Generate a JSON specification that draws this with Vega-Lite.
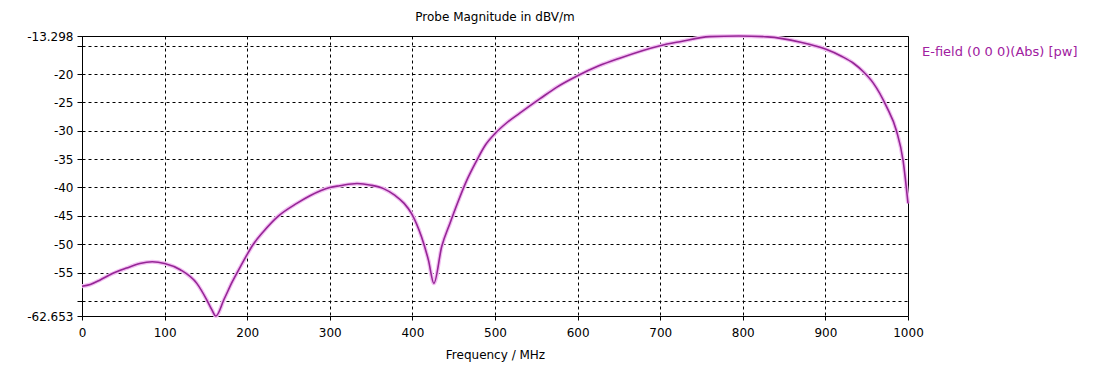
{
  "$schema": "https://vega.github.io/schema/vega-lite/v6.json",
  "width": 826,
  "height": 280,
  "autosize": {"type": "none"},
  "padding": {"left": 82, "top": 36, "right": 207, "bottom": 52},
  "background": "white",
  "config": {
    "font": "DejaVu Sans",
    "view": {"stroke": "black", "strokeWidth": 1}
  },
  "title": {
    "text": "Probe Magnitude in dBV/m",
    "fontSize": 12,
    "fontWeight": "normal",
    "color": "black",
    "anchor": "middle",
    "offset": 4
  },
  "data": {
    "values": [
      {"f": 0, "v": -57.4, "s": "E-field (0 0 0)(Abs) [pw]"},
      {"f": 10, "v": -57.1, "s": "E-field (0 0 0)(Abs) [pw]"},
      {"f": 22, "v": -56.3, "s": "E-field (0 0 0)(Abs) [pw]"},
      {"f": 35, "v": -55.3, "s": "E-field (0 0 0)(Abs) [pw]"},
      {"f": 54, "v": -54.2, "s": "E-field (0 0 0)(Abs) [pw]"},
      {"f": 70, "v": -53.4, "s": "E-field (0 0 0)(Abs) [pw]"},
      {"f": 85, "v": -53.1, "s": "E-field (0 0 0)(Abs) [pw]"},
      {"f": 100, "v": -53.4, "s": "E-field (0 0 0)(Abs) [pw]"},
      {"f": 119, "v": -54.5, "s": "E-field (0 0 0)(Abs) [pw]"},
      {"f": 139, "v": -56.9, "s": "E-field (0 0 0)(Abs) [pw]"},
      {"f": 151, "v": -59.8, "s": "E-field (0 0 0)(Abs) [pw]"},
      {"f": 157, "v": -61.5, "s": "E-field (0 0 0)(Abs) [pw]"},
      {"f": 162, "v": -62.65, "s": "E-field (0 0 0)(Abs) [pw]"},
      {"f": 172, "v": -59.7, "s": "E-field (0 0 0)(Abs) [pw]"},
      {"f": 182, "v": -56.6, "s": "E-field (0 0 0)(Abs) [pw]"},
      {"f": 192, "v": -53.9, "s": "E-field (0 0 0)(Abs) [pw]"},
      {"f": 200, "v": -51.8, "s": "E-field (0 0 0)(Abs) [pw]"},
      {"f": 207, "v": -50.1, "s": "E-field (0 0 0)(Abs) [pw]"},
      {"f": 219.5, "v": -47.8, "s": "E-field (0 0 0)(Abs) [pw]"},
      {"f": 238, "v": -45.0, "s": "E-field (0 0 0)(Abs) [pw]"},
      {"f": 260, "v": -42.8, "s": "E-field (0 0 0)(Abs) [pw]"},
      {"f": 276, "v": -41.45, "s": "E-field (0 0 0)(Abs) [pw]"},
      {"f": 300, "v": -40.0, "s": "E-field (0 0 0)(Abs) [pw]"},
      {"f": 312, "v": -39.7, "s": "E-field (0 0 0)(Abs) [pw]"},
      {"f": 333, "v": -39.3, "s": "E-field (0 0 0)(Abs) [pw]"},
      {"f": 350, "v": -39.6, "s": "E-field (0 0 0)(Abs) [pw]"},
      {"f": 365, "v": -40.2, "s": "E-field (0 0 0)(Abs) [pw]"},
      {"f": 379, "v": -41.4, "s": "E-field (0 0 0)(Abs) [pw]"},
      {"f": 390, "v": -42.8, "s": "E-field (0 0 0)(Abs) [pw]"},
      {"f": 399, "v": -44.6, "s": "E-field (0 0 0)(Abs) [pw]"},
      {"f": 411, "v": -48.7, "s": "E-field (0 0 0)(Abs) [pw]"},
      {"f": 419.4, "v": -52.8, "s": "E-field (0 0 0)(Abs) [pw]"},
      {"f": 426, "v": -56.9, "s": "E-field (0 0 0)(Abs) [pw]"},
      {"f": 435.5, "v": -50.4, "s": "E-field (0 0 0)(Abs) [pw]"},
      {"f": 445.5, "v": -46.3, "s": "E-field (0 0 0)(Abs) [pw]"},
      {"f": 455, "v": -42.6, "s": "E-field (0 0 0)(Abs) [pw]"},
      {"f": 465, "v": -39.0, "s": "E-field (0 0 0)(Abs) [pw]"},
      {"f": 478, "v": -35.2, "s": "E-field (0 0 0)(Abs) [pw]"},
      {"f": 488, "v": -32.6, "s": "E-field (0 0 0)(Abs) [pw]"},
      {"f": 500, "v": -30.5, "s": "E-field (0 0 0)(Abs) [pw]"},
      {"f": 515, "v": -28.5, "s": "E-field (0 0 0)(Abs) [pw]"},
      {"f": 530, "v": -26.9, "s": "E-field (0 0 0)(Abs) [pw]"},
      {"f": 555, "v": -24.3, "s": "E-field (0 0 0)(Abs) [pw]"},
      {"f": 575, "v": -22.3, "s": "E-field (0 0 0)(Abs) [pw]"},
      {"f": 600, "v": -20.3, "s": "E-field (0 0 0)(Abs) [pw]"},
      {"f": 625, "v": -18.6, "s": "E-field (0 0 0)(Abs) [pw]"},
      {"f": 651, "v": -17.2, "s": "E-field (0 0 0)(Abs) [pw]"},
      {"f": 700, "v": -15.0, "s": "E-field (0 0 0)(Abs) [pw]"},
      {"f": 724, "v": -14.3, "s": "E-field (0 0 0)(Abs) [pw]"},
      {"f": 760, "v": -13.4, "s": "E-field (0 0 0)(Abs) [pw]"},
      {"f": 795, "v": -13.298, "s": "E-field (0 0 0)(Abs) [pw]"},
      {"f": 830, "v": -13.45, "s": "E-field (0 0 0)(Abs) [pw]"},
      {"f": 870, "v": -14.4, "s": "E-field (0 0 0)(Abs) [pw]"},
      {"f": 900, "v": -15.6, "s": "E-field (0 0 0)(Abs) [pw]"},
      {"f": 920, "v": -16.9, "s": "E-field (0 0 0)(Abs) [pw]"},
      {"f": 934, "v": -18.1, "s": "E-field (0 0 0)(Abs) [pw]"},
      {"f": 946, "v": -19.6, "s": "E-field (0 0 0)(Abs) [pw]"},
      {"f": 958, "v": -21.6, "s": "E-field (0 0 0)(Abs) [pw]"},
      {"f": 974, "v": -25.75, "s": "E-field (0 0 0)(Abs) [pw]"},
      {"f": 986, "v": -30.0, "s": "E-field (0 0 0)(Abs) [pw]"},
      {"f": 994, "v": -35.2, "s": "E-field (0 0 0)(Abs) [pw]"},
      {"f": 1000, "v": -42.8, "s": "E-field (0 0 0)(Abs) [pw]"}
    ]
  },
  "encoding": {
    "x": {
      "field": "f",
      "type": "quantitative",
      "scale": {"domain": [0, 1000], "nice": false, "zero": false},
      "axis": {
        "values": [0, 100, 200, 300, 400, 500, 600, 700, 800, 900, 1000],
        "format": "d",
        "labelFlush": false,
        "labelOverlap": false,
        "grid": true,
        "gridColor": "black",
        "gridOpacity": 1,
        "gridDash": [3, 3],
        "gridWidth": 1,
        "domain": false,
        "tickColor": "black",
        "tickSize": 4,
        "labelPadding": 7,
        "labelFontSize": 12,
        "labelColor": "black",
        "title": "Frequency / MHz",
        "titleFontSize": 12,
        "titleFontWeight": "normal",
        "titleColor": "black",
        "titlePadding": 11
      }
    },
    "y": {
      "field": "v",
      "type": "quantitative",
      "scale": {"domain": [-62.653, -13.298], "nice": false, "zero": false},
      "axis": {
        "values": [-13.298, -15, -20, -25, -30, -35, -40, -45, -50, -55, -60, -62.653],
        "labelExpr": "datum.value == -15 || datum.value == -60 ? '' : '' + datum.value",
        "labelFlush": false,
        "labelOverlap": false,
        "grid": true,
        "gridColor": "black",
        "gridOpacity": 1,
        "gridDash": [3, 3],
        "gridWidth": 1,
        "domain": false,
        "tickColor": "black",
        "tickSize": 5,
        "labelPadding": 4,
        "labelFontSize": 12,
        "labelColor": "black",
        "title": null
      }
    }
  },
  "layer": [
    {
      "mark": {"type": "line", "interpolate": "monotone", "color": "#f2bff2", "strokeWidth": 4}
    },
    {
      "mark": {"type": "line", "interpolate": "monotone", "strokeWidth": 1.6},
      "encoding": {
        "color": {
          "field": "s",
          "type": "nominal",
          "scale": {"range": ["#952595"]},
          "legend": {
            "orient": "none",
            "legendX": 827,
            "legendY": 9,
            "title": null,
            "padding": 0,
            "symbolSize": 0,
            "symbolStrokeWidth": 0,
            "symbolOpacity": 0,
            "labelOffset": 0,
            "labelFontSize": 13,
            "labelColor": "#a020a0",
            "labelLimit": 300
          }
        }
      }
    }
  ]
}
